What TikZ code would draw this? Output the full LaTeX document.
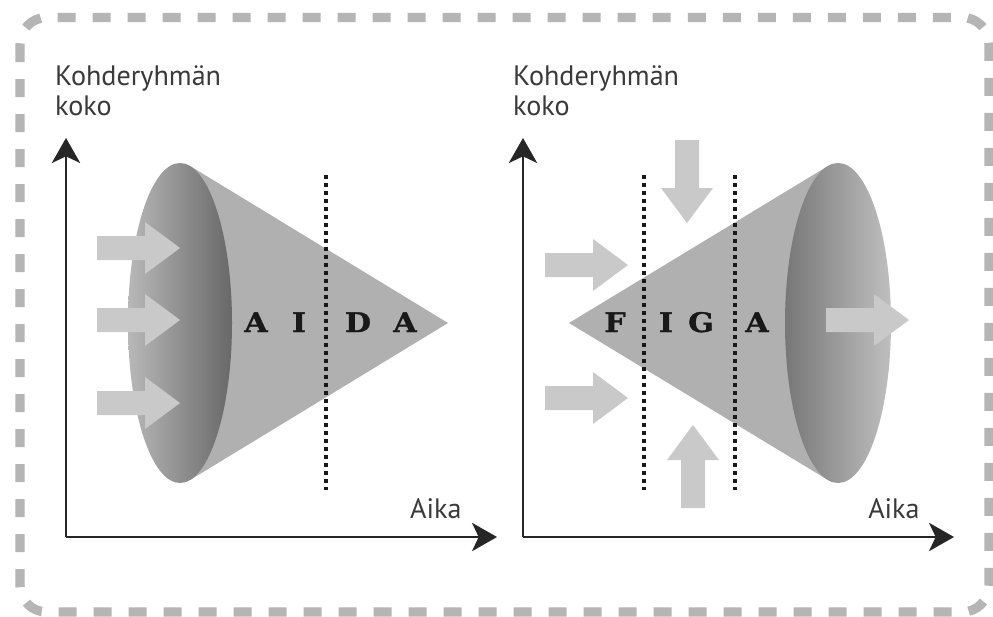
\documentclass[tikz,border=0pt]{standalone}
\usepackage{fontspec}
\setmainfont{PT Sans}
\newfontfamily\slabfont[FakeStretch=1.12, FakeBold=1.2]{DejaVu Serif Bold}
\usetikzlibrary{arrows.meta}
\definecolor{framegray}{HTML}{B5B5B5}
\definecolor{conegray}{HTML}{B0B0B0}
\definecolor{flowgray}{HTML}{C9C9C9}
\definecolor{inkgray}{HTML}{3A3A3A}
\definecolor{axisink}{HTML}{262626}
\definecolor{rimlight}{HTML}{B8B8B8}
\definecolor{rimdark}{HTML}{686868}
\begin{document}
\begin{tikzpicture}[x=0.03cm, y=-0.03cm,
  frame/.style={draw=framegray, line width=0.28cm, dash pattern=on 0.54cm off 0.51cm, rounded corners=0.8cm},
  axis/.style={draw=axisink, line width=0.06cm, -{Stealth[length=0.75cm, width=0.85cm, inset=0.2cm]}},
  phase/.style={draw=black!90, line width=0.1cm, dash pattern=on 0.12cm off 0.12cm},
  cone/.style={fill=conegray},
  lbl/.style={text=inkgray, font=\fontsize{24}{25.5}\selectfont, inner sep=0pt, align=left},
  stage/.style={text=black!90, font=\slabfont\fontsize{23}{23}\selectfont, inner sep=0pt},
  pics/flow/.style={code={\fill[flowgray] (0,-12) -- (48,-12) -- (48,-26) -- (83,0) -- (48,26) -- (48,12) -- (0,12) -- cycle;}}
]
\useasboundingbox (0,0) rectangle (993,616);
\fill[white] (0,0) rectangle (993,616);

% dashed frame
\draw[frame] (20,17.5) rectangle (989,612);

% ---------------- left panel: AIDA ----------------
\coordinate (oA) at (66,537);
\coordinate (yA) at (66,138);
\coordinate (xA) at (497,537);
\node[lbl, anchor=base west] (tyA) at (55,115) {Kohderyhmän\\koko};
\node[lbl, anchor=base west] (txA) at (410,518) {Aika};

% cone: face, then open end
\coordinate (apexA) at (448,323);
\coordinate (topA) at (190.1,166);
\coordinate (botA) at (190.1,480);
\fill[cone] (apexA) -- (topA) -- (botA) -- cycle;
\coordinate (endA) at (180,323);
\shade[left color=rimlight, right color=rimdark] (endA) ellipse [x radius=1.56cm, y radius=4.8cm];

% incoming flows
\pic at (97,248) {flow};
\pic at (97,320) {flow};
\pic at (97,403) {flow};

% phase boundary
\coordinate (dAt) at (326,175);
\coordinate (dAb) at (326,490);
\draw[phase] (dAt) -- (dAb);

\node[stage, anchor=base] (a1) at (256,332) {A};
\node[stage, anchor=base] (a2) at (299,332) {I};
\node[stage, anchor=base] (a3) at (358,332) {D};
\node[stage, anchor=base] (a4) at (405,332) {A};

\draw[axis] (oA) -- (yA);
\draw[axis] (oA) -- (xA);

% ---------------- right panel: FIGA ----------------
\coordinate (oF) at (523,537);
\coordinate (yF) at (523,138);
\coordinate (xF) at (954,537);
\node[lbl, anchor=base west] (tyF) at (513,115) {Kohderyhmän\\koko};
\node[lbl, anchor=base west] (txF) at (868,518) {Aika};

\coordinate (apexF) at (569,323);
\coordinate (topF) at (827.6,166.2);
\coordinate (botF) at (827.6,479.8);
\fill[cone] (apexF) -- (topF) -- (botF) -- cycle;
\coordinate (endF) at (838,323);
\shade[left color=rimdark!90!white, right color=rimlight!90!white] (endF) ellipse [x radius=1.59cm, y radius=4.8cm];

% flows in from the sides, above and below, and out of the open end
\pic at (545,265) {flow};
\pic at (545,398) {flow};
\pic[rotate=-90] at (687,140) {flow};
\pic[rotate=90] at (693,508) {flow};
\pic at (826,320) {flow};

\coordinate (dF1t) at (644,175);
\coordinate (dF1b) at (644,490);
\coordinate (dF2t) at (735,175);
\coordinate (dF2b) at (735,490);
\draw[phase] (dF1t) -- (dF1b);
\draw[phase] (dF2t) -- (dF2b);

\node[stage, anchor=base] (f1) at (615,332) {F};
\node[stage, anchor=base] (f2) at (666,332) {I};
\node[stage, anchor=base] (f3) at (701,332) {G};
\node[stage, anchor=base] (f4) at (757,332) {A};

\draw[axis] (oF) -- (yF);
\draw[axis] (oF) -- (xF);
\end{tikzpicture}
\end{document}
